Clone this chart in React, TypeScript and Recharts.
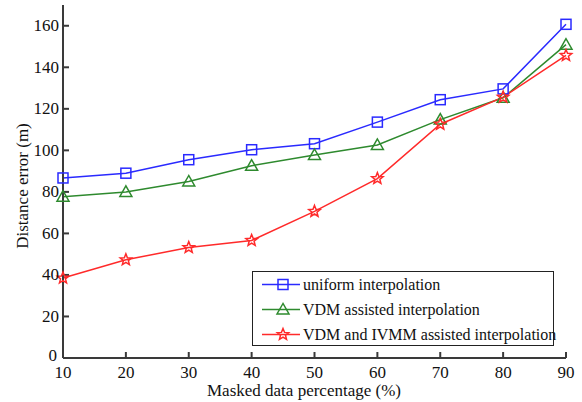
import React from 'react';
import { LineChart, Line, XAxis, YAxis, Legend } from 'recharts';

const percentages = [10, 20, 30, 40, 50, 60, 70, 80, 90];
const uniformErr = [86.7, 89, 95.5, 100.3, 103.2, 113.6, 124.4, 129.6, 160.7];
const vdmErr = [77.7, 80, 85, 92.6, 97.8, 102.6, 114.8, 125.3, 150.9];
const ivmmErr = [38.5, 47.3, 53.2, 56.6, 70.6, 86.4, 112.6, 125.6, 145.7];

const yTicks = [0, 20, 40, 60, 80, 100, 120, 140, 160];
const xTicks = [10, 20, 30, 40, 50, 60, 70, 80, 90];

const seriesNames = {
  uniform: 'uniform interpolation',
  vdm: 'VDM assisted interpolation',
  ivmm: 'VDM and IVMM assisted interpolation',
};

const data = percentages.map((p, i) => ({
  pct: p,
  uniform: uniformErr[i],
  vdm: vdmErr[i],
  ivmm: ivmmErr[i],
}));

const BLUE = '#2a2aff';
const GREEN = '#2e8a2e';
const RED = '#ff2a2a';
const AXIS = '#3a3a3a';
const FONT = '"Liberation Serif", "Times New Roman", serif';

const starPoints = (cx: number, cy: number, ro: number, ri: number) => {
  const pts: string[] = [];
  for (let k = 0; k < 10; k++) {
    const r = k % 2 === 0 ? ro : ri;
    const a = -Math.PI / 2 + (k * Math.PI) / 5;
    pts.push(`${cx + r * Math.cos(a)},${cy + r * Math.sin(a)}`);
  }
  return pts.join(' ');
};

const Marker = ({ kind, cx, cy, color }: { kind: string; cx: number; cy: number; color: string }) => {
  if (kind === 'square')
    return <rect x={cx - 5} y={cy - 5} width={10} height={10} fill="none" stroke={color} strokeWidth={1.5} />;
  if (kind === 'triangle')
    return (
      <polygon
        points={`${cx},${cy - 6} ${cx - 6},${cy + 4.5} ${cx + 6},${cy + 4.5}`}
        fill="none"
        stroke={color}
        strokeWidth={1.5}
      />
    );
  return <polygon points={starPoints(cx, cy, 6, 2.6)} fill="none" stroke={color} strokeWidth={1.5} />;
};

const dotOf = (kind: string, color: string) => (props: any) => {
  const { cx, cy, index } = props;
  if (cx == null || cy == null) return <g key={index} />;
  return <Marker key={index} kind={kind} cx={cx} cy={cy} color={color} />;
};

const legendRows = [
  { name: seriesNames.uniform, color: BLUE, kind: 'square' },
  { name: seriesNames.vdm, color: GREEN, kind: 'triangle' },
  { name: seriesNames.ivmm, color: RED, kind: 'star' },
];

const LegendBox = () => (
  <div
    style={{
      width: 300,
      height: 73,
      border: '1.5px solid #222',
      background: '#fff',
      boxSizing: 'content-box',
      fontFamily: FONT,
      fontSize: 16,
      color: '#111',
    }}
  >
    {legendRows.map((r) => (
      <div key={r.name} style={{ display: 'flex', alignItems: 'center', height: 25 }}>
        <svg width={50} height={25} style={{ flex: 'none' }}>
          <line x1={9} y1={12.5} x2={47} y2={12.5} stroke={r.color} strokeWidth={1.5} />
          <Marker kind={r.kind} cx={30} cy={12.5} color={r.color} />
        </svg>
        <span style={{ whiteSpace: 'nowrap' }}>{r.name}</span>
      </div>
    ))}
  </div>
);

// y tick: the "0" sits a little higher/left so it does not run into "10"
const YTick = (props: any) => {
  const { x, y, payload } = props;
  const isZero = payload.value === 0;
  return (
    <text
      x={x - (isZero ? 2 : 0)}
      y={y - (isZero ? 3 : 0)}
      textAnchor="end"
      dominantBaseline="central"
      fontFamily={FONT}
      fontSize={17}
      fill="#111"
    >
      {payload.value}
    </text>
  );
};

const YLabel = () => (
  <text
    x={22}
    y={186}
    transform="rotate(-90, 22, 186)"
    textAnchor="middle"
    dominantBaseline="central"
    fontFamily={FONT}
    fontSize={17}
    fill="#111"
  >
    Distance error (m)
  </text>
);

const XLabel = () => (
  <text x={304} y={396} textAnchor="middle" fontFamily={FONT} fontSize={17} fill="#111">
    Masked data percentage (%)
  </text>
);

export default function App() {
  return (
    <div style={{ position: 'absolute', left: 0, top: 0, width: 582, height: 402, background: '#fff' }}>
      <LineChart width={582} height={402} data={data} margin={{ top: 5, right: 16, left: 0, bottom: 0 }}>
        <XAxis
          dataKey="pct"
          type="number"
          domain={[10, 90]}
          ticks={xTicks}
          height={44}
          tickSize={-6}
          tickMargin={14}
          stroke={AXIS}
          strokeWidth={2}
          tick={{ fill: '#111', fontSize: 17, fontFamily: FONT }}
          label={<XLabel />}
        />
        <YAxis
          type="number"
          domain={[0, 170]}
          ticks={yTicks}
          width={63}
          tickSize={-6}
          tickMargin={10}
          stroke={AXIS}
          strokeWidth={2}
          tick={<YTick />}
          label={<YLabel />}
        />
        <Legend
          layout="vertical"
          align="center"
          verticalAlign="middle"
          wrapperStyle={{ left: 252, top: 271, width: 303 }}
          content={() => <LegendBox />}
        />
        <Line
          dataKey="uniform"
          name={seriesNames.uniform}
          stroke={BLUE}
          strokeWidth={1.5}
          dot={dotOf('square', BLUE)}
          isAnimationActive={false}
        />
        <Line
          dataKey="vdm"
          name={seriesNames.vdm}
          stroke={GREEN}
          strokeWidth={1.5}
          dot={dotOf('triangle', GREEN)}
          isAnimationActive={false}
        />
        <Line
          dataKey="ivmm"
          name={seriesNames.ivmm}
          stroke={RED}
          strokeWidth={1.5}
          dot={dotOf('star', RED)}
          isAnimationActive={false}
        />
      </LineChart>
    </div>
  );
}
